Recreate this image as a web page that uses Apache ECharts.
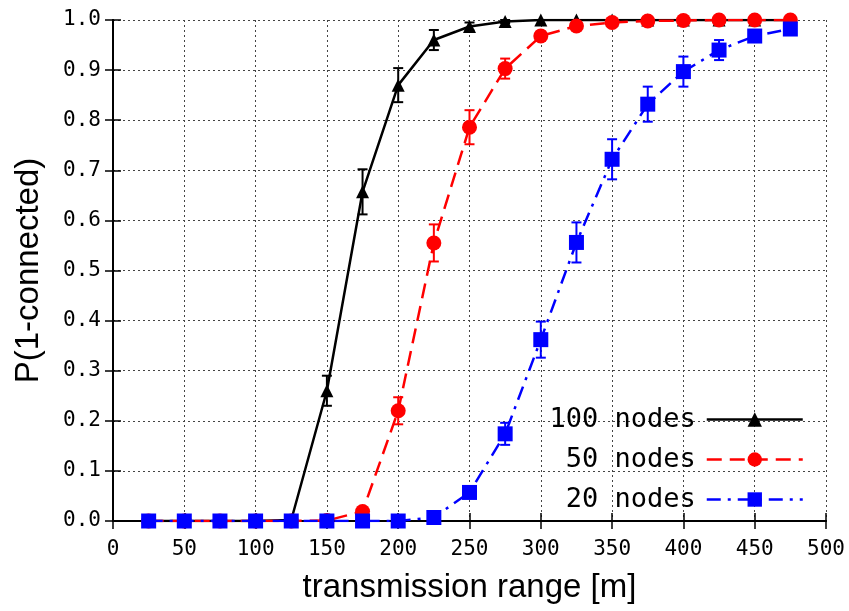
<!DOCTYPE html>
<html>
<head>
<meta charset="utf-8">
<script src="https://cdn.jsdelivr.net/npm/echarts@6/dist/echarts.min.js"></script>
<style>
  html, body { margin: 0; padding: 0; background: #fff; }
  #main { width: 849px; height: 611px; }
</style>
</head>
<body>
<div id="main"></div>
<script>
var ranges = [25, 50, 75, 100, 125, 150, 175, 200, 225, 250, 275, 300, 325, 350, 375, 400, 425, 450, 475];

var p100 = [0, 0, 0, 0, 0.002, 0.26, 0.657, 0.87, 0.96, 0.987, 0.997, 1, 1, 1, 1, 1, 1, 1, 1];
var e100 = [0, 0, 0, 0, 0.001, 0.03, 0.045, 0.034, 0.02, 0.008, 0.003, 0, 0, 0, 0, 0, 0, 0, 0];

var p50 = [0, 0, 0, 0, 0, 0.001, 0.019, 0.22, 0.555, 0.786, 0.903, 0.968, 0.988, 0.995, 0.998, 0.999, 1, 1, 1];
var e50 = [0, 0, 0, 0, 0, 0, 0.004, 0.027, 0.037, 0.034, 0.02, 0.009, 0.004, 0.002, 0.001, 0, 0, 0, 0];

var p20 = [0, 0, 0, 0, 0, 0, 0, 0, 0.007, 0.057, 0.174, 0.362, 0.556, 0.722, 0.832, 0.897, 0.94, 0.968, 0.982];
var e20 = [0, 0, 0, 0, 0, 0, 0, 0, 0.003, 0.008, 0.022, 0.036, 0.04, 0.04, 0.035, 0.03, 0.02, 0.01, 0.005];

var names = ['100 nodes', '50 nodes', '20 nodes'];

var monoFont = 'DejaVu Sans Mono';
var sansFont = 'Liberation Sans';

function pairs(ys) {
  return ranges.map(function (x, i) { return [x, ys[i]]; });
}

function errData(ys, es) {
  return ranges.map(function (x, i) { return [x, ys[i] - es[i], ys[i] + es[i]]; });
}

// vertical error bar with small caps
function errorBar(color) {
  return function (params, api) {
    var lo = api.coord([api.value(0), api.value(1)]);
    var hi = api.coord([api.value(0), api.value(2)]);
    var w = 5;
    var st = { stroke: color, lineWidth: 2 };
    return {
      type: 'group',
      children: [
        { type: 'line', shape: { x1: lo[0], y1: lo[1], x2: hi[0], y2: hi[1] }, style: st },
        { type: 'line', shape: { x1: lo[0] - w, y1: lo[1], x2: lo[0] + w, y2: lo[1] }, style: st },
        { type: 'line', shape: { x1: hi[0] - w, y1: hi[1], x2: hi[0] + w, y2: hi[1] }, style: st }
      ]
    };
  };
}

var chart = echarts.init(document.getElementById('main'));

var option = {
  backgroundColor: '#ffffff',
  animation: false,
  grid: {
    left: 113,
    right: 23,
    top: 20,
    bottom: 90
  },
  legend: {
    data: names,
    orient: 'vertical',
    align: 'right',
    right: 40,
    top: 401,
    itemWidth: 96,
    itemHeight: 18,
    itemGap: 13,
    formatter: function (name) {
      return (name.length < 9 ? ' ' : '') + name;
    },
    lineStyle: { width: 2.5 },
    textStyle: {
      fontFamily: monoFont,
      fontSize: 27,
      color: '#000',
      padding: [0, 6, 0, 0]
    }
  },
  xAxis: [{
    type: 'value',
    min: 0,
    max: 500,
    interval: 50,
    name: 'transmission range [m]',
    nameLocation: 'middle',
    nameGap: 50,
    nameTextStyle: { fontFamily: sansFont, fontSize: 33, color: '#000' },
    axisLine: { lineStyle: { color: '#000', width: 2 } },
    axisTick: { inside: true, length: 8, lineStyle: { color: '#000', width: 1.5 } },
    axisLabel: { fontFamily: monoFont, fontSize: 21, color: '#000', margin: 18 },
    splitLine: { show: true, lineStyle: { color: '#444', type: [2, 3], width: 1 } }
  }, {
    type: 'value',
    position: 'top',
    min: 0,
    max: 500,
    interval: 50,
    axisLine: { lineStyle: { color: '#000', width: 2 } },
    axisTick: { inside: true, length: 8, lineStyle: { color: '#000', width: 1.5 } },
    axisLabel: { show: false },
    splitLine: { show: false }
  }],
  yAxis: [{
    type: 'value',
    min: 0,
    max: 1,
    interval: 0.1,
    name: 'P(1-connected)',
    nameLocation: 'middle',
    nameGap: 68,
    nameTextStyle: { fontFamily: sansFont, fontSize: 33, color: '#000' },
    axisLine: { show: true, lineStyle: { color: '#000', width: 2 } },
    axisTick: { show: true, inside: true, length: 8, lineStyle: { color: '#000', width: 1.5 } },
    axisLabel: {
      fontFamily: monoFont, fontSize: 21, color: '#000', margin: 12,
      formatter: function (v) { return v.toFixed(1); }
    },
    splitLine: { show: true, lineStyle: { color: '#444', type: [2, 3], width: 1 } }
  }, {
    type: 'value',
    position: 'right',
    min: 0,
    max: 1,
    interval: 0.1,
    axisLine: { show: true, lineStyle: { color: '#000', width: 2 } },
    axisTick: { show: true, inside: true, length: 8, lineStyle: { color: '#000', width: 1.5 } },
    axisLabel: { show: false },
    splitLine: { show: false }
  }],
  series: [
    {
      name: 'err100',
      type: 'custom',
      renderItem: errorBar('#000000'),
      data: errData(p100, e100),
      encode: { x: 0, y: [1, 2] },
      z: 3
    },
    {
      name: names[0],
      type: 'line',
      data: pairs(p100),
      color: '#000000',
      symbol: 'triangle',
      symbolSize: 13,
      lineStyle: { width: 2.5, type: 'solid' },
      z: 3
    },
    {
      name: 'err50',
      type: 'custom',
      renderItem: errorBar('#ff0000'),
      data: errData(p50, e50),
      encode: { x: 0, y: [1, 2] },
      z: 4
    },
    {
      name: names[1],
      type: 'line',
      data: pairs(p50),
      color: '#ff0000',
      symbol: 'circle',
      symbolSize: 15,
      lineStyle: { width: 2.5, type: [15, 8] },
      z: 4
    },
    {
      name: 'err20',
      type: 'custom',
      renderItem: errorBar('#0000ff'),
      data: errData(p20, e20),
      encode: { x: 0, y: [1, 2] },
      z: 5
    },
    {
      name: names[2],
      type: 'line',
      data: pairs(p20),
      color: '#0000ff',
      symbol: 'rect',
      symbolSize: 15,
      lineStyle: { width: 2.5, type: [14, 7, 3, 7] },
      z: 5
    }
  ]
};

chart.setOption(option);
</script>
</body>
</html>
